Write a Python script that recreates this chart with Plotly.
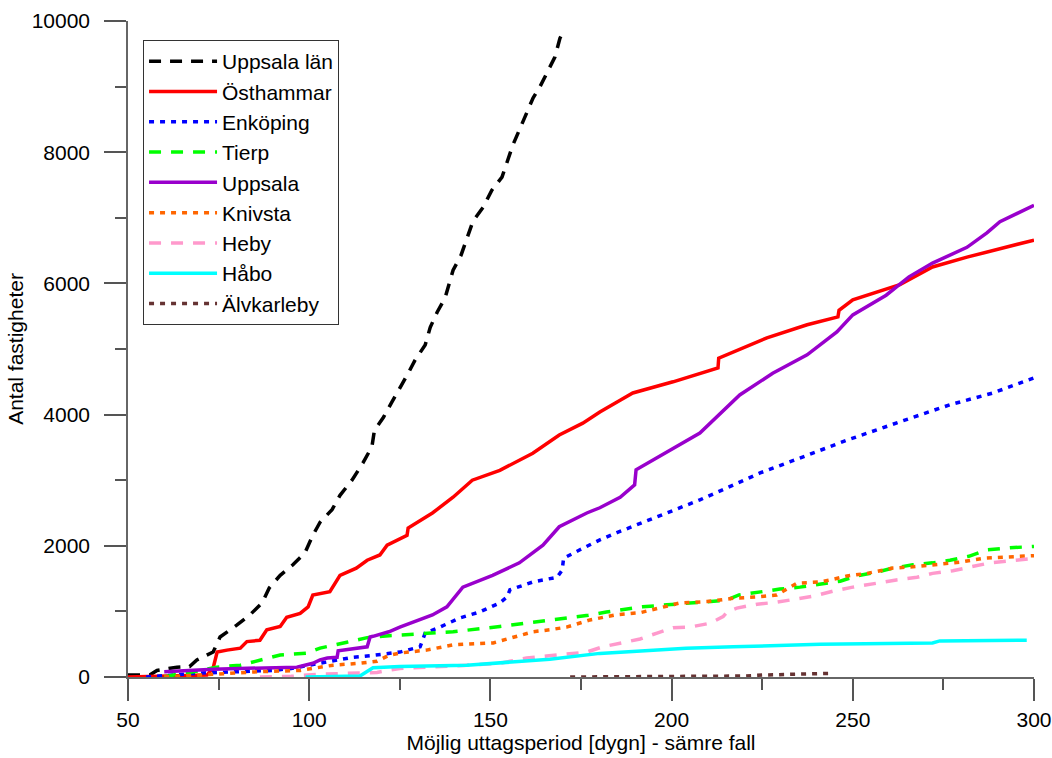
import plotly.graph_objects as go

# ---- data ----
uppsala_lan_x = [50, 56, 58, 63.5, 67, 69, 73.5, 75.4, 80, 83.7, 87, 89, 92, 95.5, 98.8, 101, 103, 106.3,
                 108.5, 111.8, 114.8, 117.3, 118, 120.5, 122.8, 125, 127.3, 129.2, 132, 133.4, 135.3, 137.5,
                 138.4, 139.7, 141.9, 143.5, 145.2, 148, 150.4, 153.2, 154.8, 156.2, 158, 160, 161.8, 163.7,
                 165.9, 167.8, 169.2, 170]
uppsala_lan_y = [30, 30, 100, 150, 160, 260, 380, 610, 790, 950, 1130, 1360, 1550, 1710, 1890, 2160, 2360, 2550,
                 2770, 3000, 3260, 3510, 3760, 3960, 4190, 4400, 4630, 4830, 5060, 5330, 5560, 5780,
                 5950, 6200, 6430, 6690, 6950, 7160, 7420, 7620, 7880, 8110, 8340, 8600, 8830, 9000,
                 9250, 9450, 9740, 9820]

osthammar_x = [50, 60, 70, 71.8, 73.5, 74.6, 77.3, 81, 82.8, 86.4, 88.3, 92, 93.8, 97.5, 99.7, 101, 105.7, 108.5,
               113, 116, 119.5, 121.5, 127, 127.3, 134, 139.7, 145, 152.6, 161.7, 169, 175.5, 180.2, 185.8,
               189.3, 200.4, 212.8, 213.0, 226.3, 237.4, 245.9, 246.2, 250, 263, 272, 281.5, 300]
osthammar_y = [0, 10, 20, 30, 140, 380, 410, 440, 540, 560, 720, 770, 910, 970, 1070, 1250, 1300, 1550,
               1660, 1780, 1860, 2010, 2160, 2270, 2500, 2740, 3000, 3150, 3410, 3690, 3870, 4040, 4220,
               4330, 4500, 4710, 4860, 5170, 5370, 5490, 5590, 5750, 5980, 6250, 6400, 6660]

enkoping_x = [55, 60, 65, 70, 80, 90, 95, 100, 105, 112, 117.6, 125, 130.6, 132, 136, 141.6, 147, 152.6, 154.6,
              155.4, 161.8, 168.4, 169.8, 170.2, 174.7, 180.2, 184.9, 194.9, 207.8, 213.9, 224.4, 237.4, 248.4,
              263, 276.8, 288.7, 300]
enkoping_y = [0, 20, 40, 60, 80, 100, 130, 180, 230, 300, 330, 380, 460, 670, 760, 900, 990, 1130, 1220,
              1330, 1450, 1520, 1630, 1810, 1940, 2090, 2200, 2420, 2700, 2850, 3110, 3380, 3610,
              3890, 4150, 4330, 4560]

tierp_x = [60, 62.5, 70, 74.5, 81, 88.3, 92, 99.4, 103, 110.4, 116, 122, 128.7, 139.7, 152.6, 155.4, 166.4, 172,
           177, 182, 192, 198.7, 207.8, 215, 218.6, 224.7, 229.9, 235.4, 241, 246.5, 251, 256.7, 261, 266.6,
           272, 276.8, 282, 287, 293.4, 300]
tierp_y = [0, 30, 100, 150, 180, 290, 335, 365, 440, 530, 600, 630, 650, 690, 770, 790, 870, 900,
           940, 990, 1070, 1100, 1140, 1170, 1250, 1300, 1340, 1370, 1420, 1460, 1540, 1600, 1660, 1710,
           1740, 1780, 1840, 1940, 1970, 1990]

uppsala_x = [60, 73.5, 96.6, 101, 103, 105, 107.7, 108, 116, 116.8, 117.6, 122, 125, 134, 138, 142.4, 150.6, 158,
             164.5, 169, 176.6, 180.2, 185.8, 189.8, 190.2, 201.5, 207.8, 218.8, 227.9, 237.4, 245.6, 250,
             259.2, 265.5, 272, 281.5, 287, 290.6, 300]
uppsala_y = [80, 120, 150, 210, 260, 290, 300, 400, 460, 610, 620, 690, 760, 945, 1070, 1370, 1550, 1740,
             2010, 2290, 2500, 2580, 2740, 2930, 3160, 3510, 3720, 4300, 4630, 4910, 5260, 5520,
             5820, 6100, 6310, 6550, 6770, 6940, 7190]

knivsta_x = [60, 77, 86, 97.5, 106.6, 114, 118.7, 122, 125, 132.4, 139.7, 150.8, 153.5, 157.3, 161.8, 166.4, 171,
             177.5, 180.2, 184.9, 191.3, 196.8, 202.4, 209.8, 217, 223.6, 229, 234.6, 241, 244.6, 248.4, 254,
             261, 266.6, 273, 279.6, 286, 293.4, 300]
knivsta_y = [0, 50, 80, 100, 180, 210, 240, 330, 365, 410, 490, 520, 560, 610, 690, 720, 760,
             870, 900, 950, 980, 1050, 1130, 1150, 1200, 1220, 1250, 1430, 1450, 1490, 1540, 1580,
             1660, 1680, 1710, 1750, 1810, 1830, 1850]

heby_x = [86.4, 95, 102, 110, 118.7, 125, 134, 143.5, 152.6, 160, 165.5, 171, 176.6, 181, 186.6, 191.3, 196,
          200.4, 205, 210.6, 214.2, 215.5, 218, 223.6, 229, 234.6, 239, 244.6, 250, 256.7, 262, 267.7, 272,
          277.6, 283, 287.8, 293.4, 300]
heby_y = [0, 10, 40, 55, 70, 130, 150, 180, 210, 290, 320, 350, 380, 460, 520, 580, 670,
          750, 760, 820, 920, 1000, 1050, 1110, 1140, 1190, 1230, 1310, 1370, 1430, 1480, 1520, 1580,
          1620, 1680, 1740, 1770, 1810]

habo_x = [99, 105, 114, 117.6, 125, 143.5, 152.6, 166.4, 180.2, 204, 217, 241, 272, 274, 298]
habo_y = [0, 5, 15, 140, 160, 180, 220, 270, 360, 440, 460, 500, 520, 550, 560]

alvkarleby_x = [172, 190, 210, 220, 225, 235, 244]
alvkarleby_y = [0, 5, 5, 15, 30, 45, 55]

series = [
    ("Uppsala län", uppsala_lan_x, uppsala_lan_y, "#000000", "12px,9px"),
    ("Östhammar", osthammar_x, osthammar_y, "#ff0000", "solid"),
    ("Enköping", enkoping_x, enkoping_y, "#0000ff", "5px,6px"),
    ("Tierp", tierp_x, tierp_y, "#00ff00", "12px,10px"),
    ("Uppsala", uppsala_x, uppsala_y, "#9900cc", "solid"),
    ("Knivsta", knivsta_x, knivsta_y, "#ff6600", "5px,6px"),
    ("Heby", heby_x, heby_y, "#ff99cc", "12px,10px"),
    ("Håbo", habo_x, habo_y, "#00ffff", "solid"),
    ("Älvkarleby", alvkarleby_x, alvkarleby_y, "#663333", "5px,6px"),
]

fig = go.Figure()
for name, xs, ys, color, dash in series:
    fig.add_trace(go.Scatter(x=xs, y=ys, mode="lines", name=name,
                             line=dict(color=color, width=3.5, dash=dash)))

font_family = "Liberation Sans, Arial, sans-serif"
fig.update_layout(
    width=1052, height=758,
    margin=dict(l=128, r=18, t=21, b=81),
    paper_bgcolor="white", plot_bgcolor="white",
    font=dict(family=font_family, size=21, color="black"),
    showlegend=True,
    legend=dict(x=0.0166, y=0.971, xanchor="left", yanchor="top",
                bgcolor="white", bordercolor="#333333", borderwidth=1,
                font=dict(size=21), itemwidth=68, tracegroupgap=0),
    xaxis=dict(range=[50, 300], dtick=50, tick0=50, showgrid=False, zeroline=False,
               automargin=False,
               showline=True, linecolor="#666666", linewidth=1.5,
               ticks="outside", ticklen=22, tickcolor="#555555", tickwidth=1.5,
               ticklabelstandoff=1,
               minor=dict(dtick=25, tick0=50, ticks="outside", ticklen=11, tickcolor="#555555",
                          tickwidth=1.5, showgrid=False),
               title=dict(text="Möjlig uttagsperiod [dygn] - sämre fall", standoff=4,
                          font=dict(size=21))),
    yaxis=dict(range=[0, 10000], dtick=2000, tick0=0, showgrid=False, zeroline=False,
               automargin=False, tickformat="d",
               showline=True, linecolor="#666666", linewidth=1.5,
               ticks="outside", ticklen=22, tickcolor="#555555", tickwidth=1.5,
               ticklabelstandoff=10,
               minor=dict(dtick=1000, tick0=0, ticks="outside", ticklen=11, tickcolor="#555555",
                          tickwidth=1.5, showgrid=False),
               title=dict(text="Antal fastigheter", standoff=2, font=dict(size=21))),
)

fig.write_html("out.html", config={"displayModeBar": False},
               post_script="document.body.style.margin='0';document.body.style.overflow='hidden';")
